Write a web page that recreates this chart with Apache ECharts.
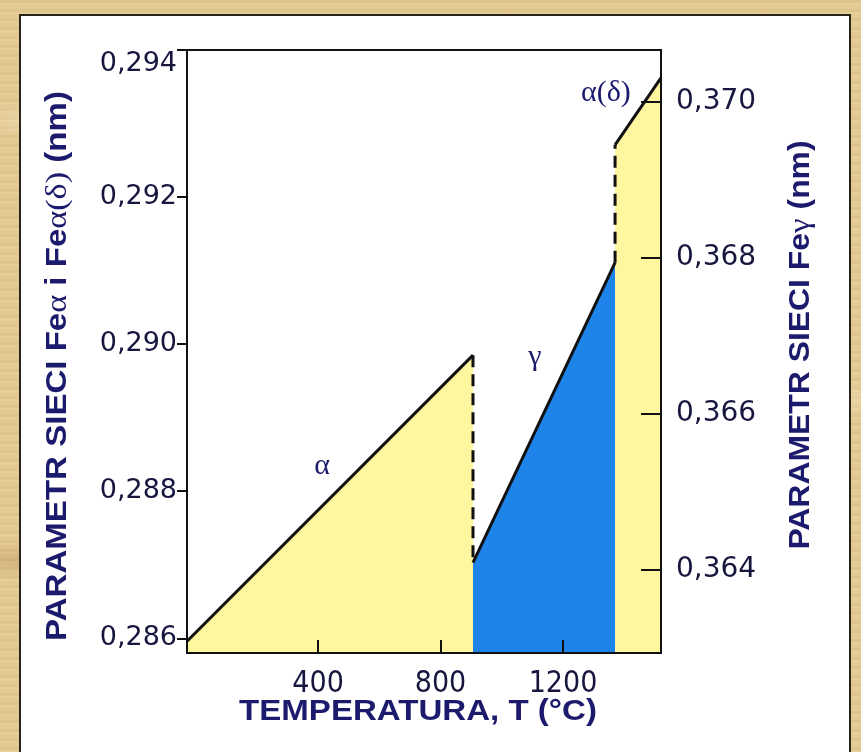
<!DOCTYPE html>
<html>
<head>
<meta charset="utf-8">
<script src="https://cdn.jsdelivr.net/npm/echarts@6/dist/echarts.min.js"></script>
<style>
  html, body { margin: 0; padding: 0; }
  body {
    width: 861px; height: 752px; overflow: hidden;
    background-color: #E3C993;
    background-image:
      radial-gradient(ellipse 60px 18px at 40px 120px, rgba(255,245,220,0.35), rgba(255,245,220,0) 100%),
      radial-gradient(ellipse 80px 22px at 820px 400px, rgba(255,245,220,0.3), rgba(255,245,220,0) 100%),
      radial-gradient(ellipse 70px 20px at 10px 560px, rgba(160,120,60,0.25), rgba(160,120,60,0) 100%),
      repeating-linear-gradient(0deg, rgba(255,250,230,0.10) 0 2px, rgba(150,110,50,0.06) 2px 5px, rgba(255,250,230,0) 5px 9px);
  }
  #chart { position: absolute; left: 0; top: 0; width: 861px; height: 752px; }
</style>
</head>
<body>
<div id="chart"></div>
<script>
// Lattice parameter of iron vs. temperature (alpha / gamma / delta phases)
const temperatureTicks = [400, 800, 1200];
const alphaAxisTicks = [0.286, 0.288, 0.290, 0.292, 0.294];
const gammaAxisTicks = [0.364, 0.366, 0.368, 0.370];

// [temperature °C, lattice parameter nm]
const alphaLine = [[-28, 0.28596], [906, 0.28985]];
const gammaLine = [[906, 0.36409], [1370, 0.36794]];
const deltaLine = [[1370, 0.29271], [1520, 0.29362]];

const tempRange = [-28, 1520];
const alphaAxisRange = [0.2858, 0.294];
const gammaAxisRange = [0.36293, 0.37067];

const NAVY = '#1c1a6c';
const INK = '#16163f';
const YELLOW = '#FFF6A0';
const BLUE = '#1F84EA';

const chart = echarts.init(document.getElementById('chart'), null, { renderer: 'canvas' });

const fmt = v => v.toFixed(3).replace('.', ',');
const tickStyle = { color: '#111', width: 2 };

chart.setOption({
  backgroundColor: 'transparent',
  animation: false,
  grid: {
    left: 187, top: 50, width: 474, height: 603,
    show: true, borderColor: '#111', borderWidth: 2
  },
  xAxis: {
    type: 'value', min: tempRange[0], max: tempRange[1], z: 5,
    splitLine: { show: false },
    axisLine: { show: true, onZero: false, lineStyle: tickStyle },
    axisTick: { show: true, inside: true, length: 13, lineStyle: tickStyle, customValues: temperatureTicks },
    axisLabel: {
      customValues: temperatureTicks, margin: 16, formatter: v => String(v),
      fontFamily: '"Liberation Sans Narrow", "DejaVu Sans Condensed", sans-serif',
      fontSize: 30, color: INK
    }
  },
  yAxis: [
    {
      type: 'value', position: 'left', min: alphaAxisRange[0], max: alphaAxisRange[1], z: 5,
      splitLine: { show: false },
      axisLine: { show: true, onZero: false, lineStyle: tickStyle },
      axisTick: { show: true, inside: false, length: 10, lineStyle: tickStyle, customValues: alphaAxisTicks },
      axisLabel: {
        customValues: alphaAxisTicks, margin: 10, formatter: fmt,
        verticalAlignMaxLabel: 'top',
        fontFamily: '"DejaVu Sans", sans-serif', fontSize: 27, color: INK
      }
    },
    {
      type: 'value', position: 'right', min: gammaAxisRange[0], max: gammaAxisRange[1], z: 5,
      splitLine: { show: false },
      axisLine: { show: true, onZero: false, lineStyle: tickStyle },
      axisTick: { show: true, inside: true, length: 20, lineStyle: tickStyle, customValues: gammaAxisTicks },
      axisLabel: {
        customValues: gammaAxisTicks, margin: 15, formatter: fmt,
        fontFamily: '"DejaVu Sans", sans-serif', fontSize: 28, color: INK
      }
    }
  ],
  series: [
    {
      name: 'alpha', type: 'line', yAxisIndex: 0, data: alphaLine,
      symbol: 'none', z: 1,
      lineStyle: { color: '#111', width: 3 },
      areaStyle: { color: YELLOW, opacity: 1, origin: 'start' }
    },
    {
      name: 'gamma', type: 'line', yAxisIndex: 1, data: gammaLine,
      symbol: 'none', z: 1,
      lineStyle: { color: '#111', width: 3 },
      areaStyle: { color: BLUE, opacity: 1, origin: 'start' }
    },
    {
      name: 'delta', type: 'line', yAxisIndex: 0, data: deltaLine,
      symbol: 'none', z: 1,
      lineStyle: { color: '#111', width: 3 },
      areaStyle: { color: YELLOW, opacity: 1, origin: 'start' }
    }
  ]
});

// Pixel helpers through the chart's own scales
const px = (pt, yIdx) => chart.convertToPixel({ xAxisIndex: 0, yAxisIndex: yIdx }, pt);

// Dashed jumps at the phase transitions
const jumps = [
  { from: [alphaLine[1], 0], to: [gammaLine[0], 1] },
  { from: [gammaLine[1], 1], to: [deltaLine[0], 0] }
];
const jumpShapes = jumps.map(j => {
  const a = px(j.from[0], j.from[1]);
  const b = px(j.to[0], j.to[1]);
  return {
    type: 'line', z: 10,
    shape: { x1: a[0], y1: a[1], x2: b[0], y2: b[1] },
    style: { stroke: '#111', lineWidth: 3, lineDash: [12, 7] }
  };
});

// Phase labels anchored in data coordinates
const phaseLabels = [
  { text: 'α', at: [413, 0.28834], axis: 0 },
  { text: 'γ', at: [1108, 0.36673], axis: 1 },
  { text: 'α(δ)', at: [1340, 0.29341], axis: 0 }
];
const labelShapes = phaseLabels.map(l => {
  const p = px(l.at, l.axis);
  return {
    type: 'text', z: 12, x: p[0], y: p[1],
    style: {
      text: l.text, align: 'center', verticalAlign: 'middle',
      fontFamily: '"Liberation Serif", "DejaVu Serif", serif', fontSize: 30, fill: NAVY
    }
  };
});

const titleRich = {
  b: { fontFamily: '"Liberation Sans", Arial, sans-serif', fontWeight: 'bold', fontSize: 29, fill: NAVY },
  g: { fontFamily: '"Liberation Serif", "DejaVu Serif", serif', fontSize: 30, fill: NAVY }
};

chart.setOption({
  graphic: [
    {
      type: 'rect', z: -10, silent: true,
      shape: { x: 20, y: 15, width: 830, height: 760 },
      style: { fill: '#ffffff', stroke: '#2a2418', lineWidth: 2 }
    },
    ...jumpShapes,
    ...labelShapes,
    {
      type: 'text', z: 12, x: 418, y: 712, scaleX: 1.14,
      style: {
        text: '{b|TEMPERATURA, T (°C)}', rich: titleRich,
        align: 'center', verticalAlign: 'middle'
      }
    },
    {
      type: 'text', z: 12, x: 58, y: 366, rotation: Math.PI / 2, scaleX: 1.14,
      style: {
        text: '{b|PARAMETR SIECI Fe}{g|α}{b| i Fe}{g|α(δ)}{b| (nm)}', rich: titleRich,
        align: 'center', verticalAlign: 'middle'
      }
    },
    {
      type: 'text', z: 12, x: 801, y: 345, rotation: Math.PI / 2, scaleX: 1.1,
      style: {
        text: '{b|PARAMETR SIECI Fe}{g|γ}{b| (nm)}', rich: titleRich,
        align: 'center', verticalAlign: 'middle'
      }
    }
  ]
});
</script>
</body>
</html>
